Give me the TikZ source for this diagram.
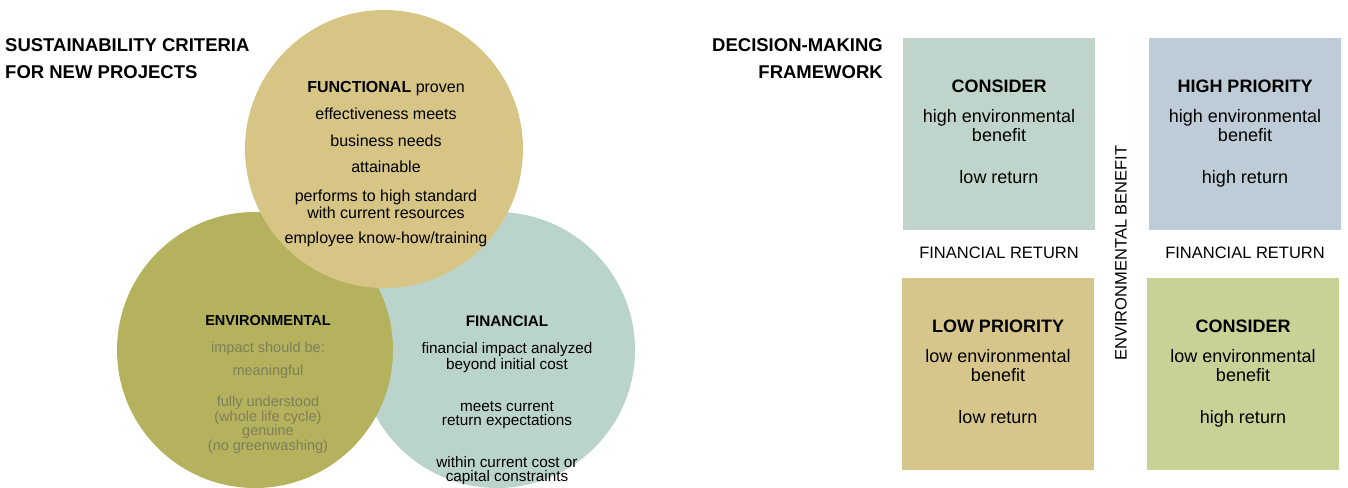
\documentclass[tikz,border=0pt]{standalone}
\usepackage{fontspec}
\setmainfont{Liberation Sans}
\usepackage{tikz}
\usetikzlibrary{positioning}

\definecolor{functan}{RGB}{215,197,134}
\definecolor{envolive}{RGB}{180,178,92}
\definecolor{finblue}{RGB}{186,212,203}
\definecolor{envfaded}{RGB}{128,126,90}
\definecolor{boxsage}{RGB}{191,213,203}
\definecolor{boxblue}{RGB}{189,204,214}
\definecolor{boxtan}{RGB}{215,198,140}
\definecolor{boxgreen}{RGB}{201,210,150}

\tikzset{
  heading/.style={font=\fontsize{18.5}{27}\selectfont\bfseries, inner sep=0pt},
  circtext/.style={align=center, inner sep=0pt, anchor=north},
  quadrant/.style={minimum width=192pt, minimum height=192pt, inner sep=0pt,
    align=center, font=\fontsize{18}{19}\selectfont},
  axislabel/.style={font=\fontsize{16.5}{18}\selectfont, inner sep=0pt},
}

\begin{document}
\begin{tikzpicture}[x=1pt, y=-1pt]
  \useasboundingbox (0,0) rectangle (1348,487);

  % Venn circles - financial under environmental under functional
  \fill[finblue]  (497,350) circle (138pt);
  \fill[envolive] (255,350) circle (138pt);
  \fill[functan]  (384,149) circle (139pt);

  \node[heading, anchor=north west, align=left] (sustitle) at (5,38)
    {SUSTAINABILITY CRITERIA\\ FOR NEW PROJECTS};

  \node[circtext, font=\fontsize{16}{17}\selectfont] (functxt) at (386,81)
    {\textbf{FUNCTIONAL} proven\\[10pt] effectiveness meets\\[10pt] business needs\\[9pt]
     attainable\\[12pt] performs to high standard\\ with current resources\\[8pt]
     employee know-how/training};
  \node[circtext, text=envfaded, font=\fontsize{14.5}{14.5}\selectfont] (envtxt) at (268,315)
    {\textcolor{black}{\textbf{ENVIRONMENTAL}}\\[13pt] impact should be:\\[8pt] meaningful\\[17pt]
     fully understood\\ (whole life cycle)\\ genuine\\ (no greenwashing)};
  \node[circtext, font=\fontsize{15.3}{14}\selectfont] (fintxt) at (507,316)
    {\textbf{FINANCIAL}\\[13pt] financial impact analyzed\\ beyond initial cost\\[28pt]
     meets current\\ return expectations\\[27pt] within current cost or\\ capital constraints};

  % Decision grid
  \node[heading, anchor=north east, align=right] (dectitle) at (883,38)
    {DECISION-MAKING\\ FRAMEWORK};

  \node[quadrant, fill=boxsage]  (considerhi) at (999,134)
    {\strut\textbf{CONSIDER}\\[11pt] high environmental\\ benefit\\[23pt] low return\strut};
  \node[quadrant, fill=boxblue]  (highprio)   at (1245,134)
    {\strut\textbf{HIGH PRIORITY}\\[11pt] high environmental\\ benefit\\[23pt] high return\strut};
  \node[quadrant, fill=boxtan]   (lowprio)    at (998,374)
    {\strut\textbf{LOW PRIORITY}\\[11pt] low environmental\\ benefit\\[23pt] low return\strut};
  \node[quadrant, fill=boxgreen] (considerlo) at (1243,374)
    {\strut\textbf{CONSIDER}\\[11pt] low environmental\\ benefit\\[23pt] high return\strut};

  \node[axislabel, below=17pt of considerhi] (finret1) {FINANCIAL RETURN};
  \node[axislabel, below=17pt of highprio]   (finret2) {FINANCIAL RETURN};
  \node[axislabel, rotate=90] (envbenefit) at (1121,253) {ENVIRONMENTAL BENEFIT};
\end{tikzpicture}
\end{document}
